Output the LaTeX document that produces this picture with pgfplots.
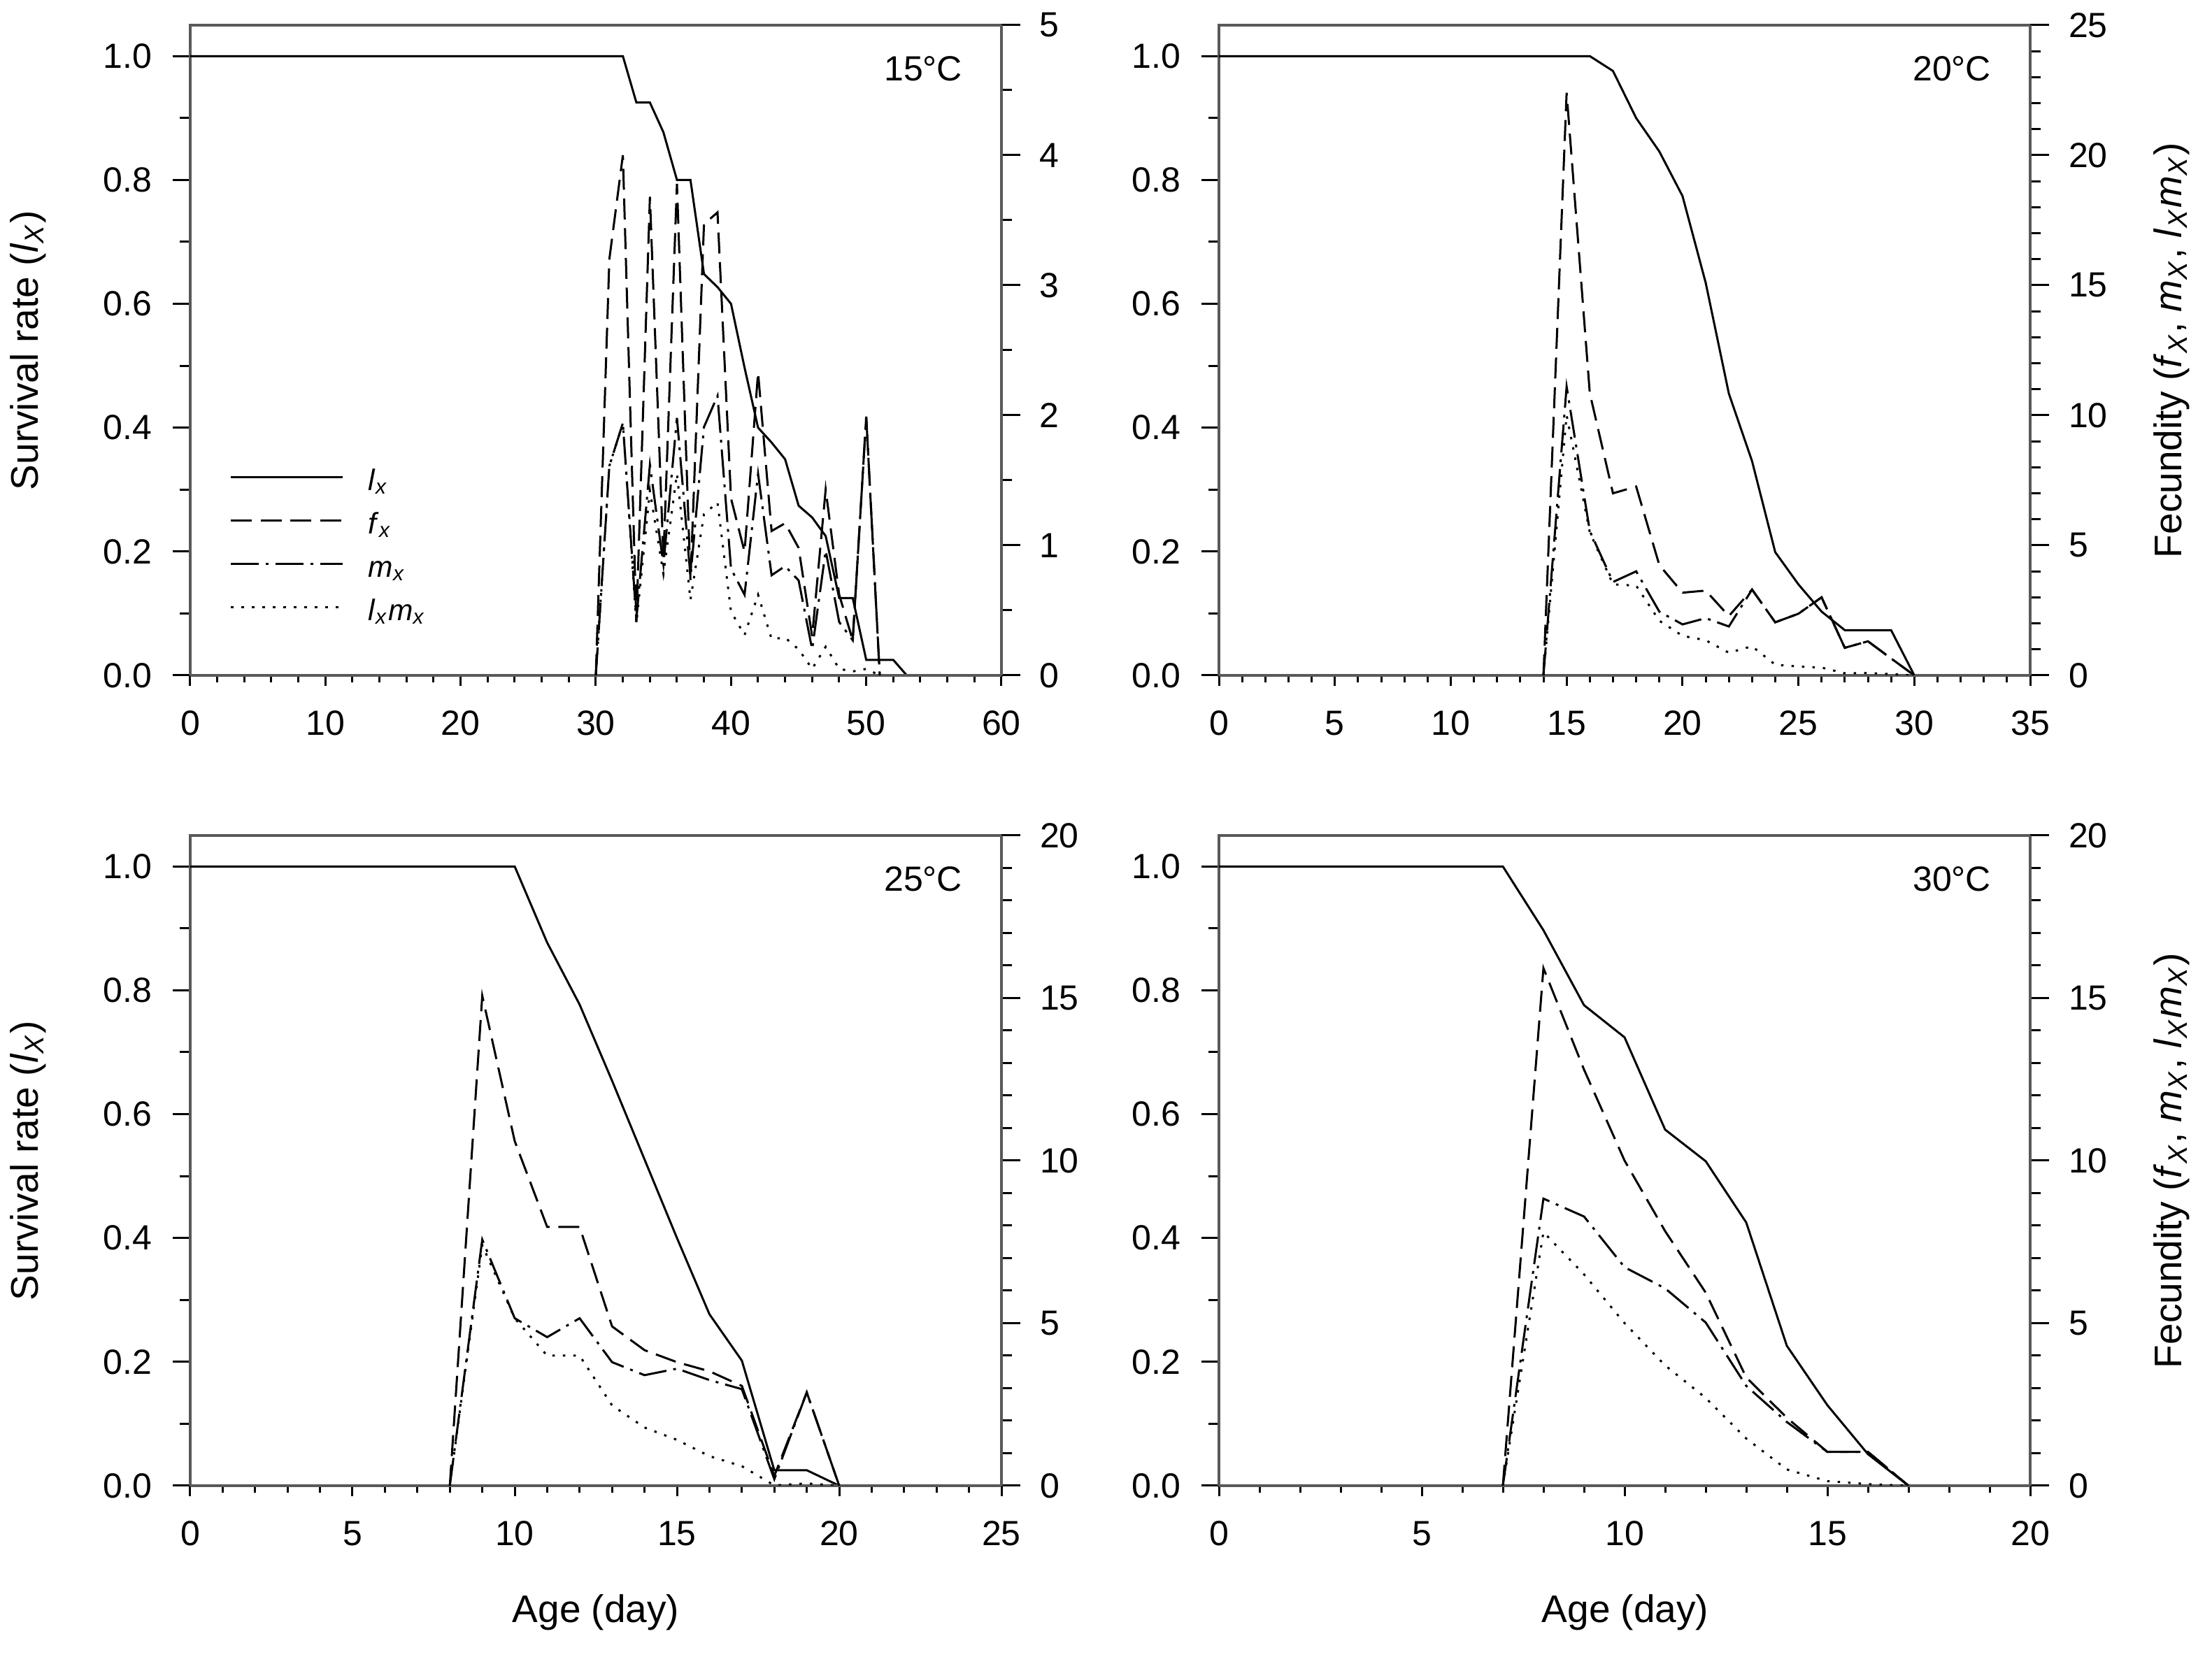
\documentclass[border=0pt]{standalone}
\usepackage{fontspec}
\setmainfont{Liberation Sans}
\usepackage{pgfplots}
\pgfplotsset{compat=1.18}
\tikzset{
  lxs/.style={black, line width=0.6pt, solid},
  fxs/.style={black, line width=0.6pt, dash pattern=on 6pt off 2.5pt},
  mxs/.style={black, line width=0.6pt, dash pattern=on 8pt off 2pt on 0.8pt off 2pt},
  lms/.style={black, line width=0.6pt, dash pattern=on 0.7pt off 2.3pt},
  templabel/.style={anchor=north east, inner sep=0pt, font=\fontsize{10}{12}\selectfont},
}
\pgfplotsset{
  common/.style={scale only axis, width=232pt, height=186pt, xmin=0, ymin=0,
    anchor=south west, tick align=outside,
    axis line style={black!65, line width=0.7pt},
    every tick/.style={black, line width=0.6pt},
    tick label style={font=\fontsize{10}{12}\selectfont, inner sep=0pt},
    /pgf/number format/assume math mode=true},
  lxax/.style={common, ymax=1.05, ytick={0,0.2,0.4,0.6,0.8,1.0}, minor y tick num=1,
    yticklabel style={/pgf/number format/.cd, fixed, fixed zerofill, precision=1},
    xtick=\empty, ytick pos=left, major tick length=5pt, minor tick length=3pt,
    yticklabel shift=5.8pt},
  xax/.style={common, axis y line=none, axis x line*=bottom, ymax=1.05, ytick=\empty,
    major tick length=3pt, minor tick length=2pt, minor x tick num=4,
    xticklabel shift=7pt},
  fax/.style={common, axis x line=none, axis y line*=right, xtick=\empty,
    major tick length=5.4pt, minor tick length=3pt, yticklabel shift=5.4pt},
}
\newcommand{\lx}{\textit{l}\textsubscript{\textit{x}}}
\newcommand{\fx}{\textit{f}\textsubscript{\textit{x}}}
\newcommand{\mx}{\textit{m}\textsubscript{\textit{x}}}
\newcommand{\lX}{\textit{l}\textsubscript{\textit{X}}}
\newcommand{\fX}{\textit{f}\textsubscript{\textit{X}}}
\newcommand{\mX}{\textit{m}\textsubscript{\textit{X}}}
\begin{document}
\begin{tikzpicture}
\path[use as bounding box] (0,0) rectangle (632.6pt,474pt);

% ================= 15 C =================
\begin{axis}[lxax, at={(54.4pt,280.8pt)}, xmax=60]
\addplot[lxs] coordinates {(0,1) (32,1) (33,0.925) (34,0.925) (35,0.877) (36,0.80) (37,0.80) (38,0.648) (39,0.627) (40,0.60) (41,0.497) (42,0.40) (43,0.376) (44,0.349) (45,0.274) (46,0.255) (47,0.225) (48,0.125) (49,0.125) (50,0.025) (51,0.025) (52,0.025) (53,0)};
\node[templabel] at (rel axis cs:1,1) [xshift=-11pt, yshift=-8.8pt] {15°C};
\end{axis}
\begin{axis}[xax, at={(54.4pt,280.8pt)}, xmax=60, xtick={0,10,...,60}]
\end{axis}
\begin{axis}[fax, at={(54.4pt,280.8pt)}, xmax=60, ymax=5, ytick={0,1,2,3,4,5}, minor y tick num=1,
  legend style={at={(0.048,0.318)}, anchor=north west, draw=none, fill=none, inner sep=0pt,
    font=\fontsize{8.5}{10}\selectfont, row sep=4.4pt, column sep=7pt,
    nodes={inner sep=0pt, text height=6pt, text depth=2pt}},
  legend cell align=left,
  legend image code/.code={\draw[#1] (0pt,1.8pt) -- (32pt,1.8pt);}]
\addlegendimage{lxs}
\addlegendentry{\lx}
\addplot[fxs] coordinates {(30,0) (31,3.2) (32,4.0) (33,0.41) (34,3.68) (35,0.9) (36,3.78) (37,0.73) (38,3.47) (39,3.56) (40,1.36) (41,0.95) (42,2.33) (43,1.11) (44,1.17) (45,0.98) (46,0.3) (47,1.43) (48,0.62) (49,0.27) (50,1.99) (51,0)};
\addlegendentry{\fx}
\addplot[mxs] coordinates {(30,0) (31,1.61) (32,1.94) (33,0.43) (34,1.62) (35,0.85) (36,1.98) (37,0.76) (38,1.91) (39,2.15) (40,0.82) (41,0.62) (42,1.55) (43,0.77) (44,0.84) (45,0.73) (46,0.2) (47,0.96) (48,0.41) (49,0.27) (50,1.99) (51,0)};
\addlegendentry{\mx}
\addplot[lms] coordinates {(30,0) (31,1.61) (32,1.94) (33,0.40) (34,1.42) (35,0.78) (36,1.55) (37,0.58) (38,1.24) (39,1.33) (40,0.49) (41,0.31) (42,0.62) (43,0.28) (44,0.29) (45,0.20) (46,0.05) (47,0.22) (48,0.05) (49,0.03) (50,0.05) (51,0)};
\addlegendentry{\lx\mx}
\end{axis}

% ================= 20 C =================
\begin{axis}[lxax, at={(348.6pt,280.8pt)}, xmax=35]
\addplot[lxs] coordinates {(0,1) (16,1) (17,0.976) (18,0.90) (19,0.846) (20,0.774) (21,0.634) (22,0.455) (23,0.346) (24,0.199) (25,0.147) (26,0.103) (27,0.073) (28,0.073) (29,0.073) (30,0)};
\node[templabel] at (rel axis cs:1,1) [xshift=-11pt, yshift=-8.8pt] {20°C};
\end{axis}
\begin{axis}[xax, at={(348.6pt,280.8pt)}, xmax=35, xtick={0,5,...,35}]
\end{axis}
\begin{axis}[fax, at={(348.6pt,280.8pt)}, xmax=35, ymax=25, ytick={0,5,...,25}, minor y tick num=4]
\addplot[fxs] coordinates {(14,0) (15,22.4) (16,10.85) (17,7.0) (18,7.26) (19,4.24) (20,3.18) (21,3.26) (22,2.28) (23,3.3) (24,2.04) (25,2.37) (26,3.0) (27,1.06) (28,1.31) (29,0.65) (30,0)};
\addplot[mxs] coordinates {(14,0) (15,11.1) (16,5.55) (17,3.59) (18,4.0) (19,2.45) (20,1.96) (21,2.2) (22,1.88) (23,3.3) (24,2.04) (25,2.37) (26,3.0) (27,1.06) (28,1.31) (29,0.65) (30,0)};
\addplot[lms] coordinates {(14,0) (15,10.0) (16,5.5) (17,3.5) (18,3.45) (19,2.1) (20,1.52) (21,1.35) (22,0.87) (23,1.12) (24,0.41) (25,0.34) (26,0.3) (27,0.08) (28,0.09) (29,0.05) (30,0)};
\end{axis}

% ================= 25 C =================
\begin{axis}[lxax, at={(54.4pt,49pt)}, xmax=25]
\addplot[lxs] coordinates {(0,1) (10,1) (11,0.877) (12,0.777) (13,0.654) (14,0.527) (15,0.40) (16,0.277) (17,0.202) (18,0.025) (19,0.025) (20,0)};
\node[templabel] at (rel axis cs:1,1) [xshift=-11pt, yshift=-8.8pt] {25°C};
\end{axis}
\begin{axis}[xax, at={(54.4pt,49pt)}, xmax=25, xtick={0,5,...,25}]
\end{axis}
\begin{axis}[fax, at={(54.4pt,49pt)}, xmax=25, ymax=20, ytick={0,5,...,20}, minor y tick num=4]
\addplot[fxs] coordinates {(8,0) (9,15.07) (10,10.6) (11,7.96) (12,7.96) (13,4.9) (14,4.17) (15,3.8) (16,3.52) (17,3.07) (18,0.3) (19,2.87) (20,0)};
\addplot[mxs] coordinates {(8,0) (9,7.57) (10,5.15) (11,4.57) (12,5.15) (13,3.8) (14,3.4) (15,3.6) (16,3.25) (17,2.97) (18,0.2) (19,2.87) (20,0)};
\addplot[lms] coordinates {(8,0) (9,7.4) (10,5.15) (11,4.0) (12,4.0) (13,2.47) (14,1.79) (15,1.41) (16,0.91) (17,0.6) (18,0.01) (19,0.07) (20,0)};
\end{axis}

% ================= 30 C =================
\begin{axis}[lxax, at={(348.6pt,49pt)}, xmax=20]
\addplot[lxs] coordinates {(0,1) (7,1) (8,0.897) (9,0.776) (10,0.724) (11,0.575) (12,0.524) (13,0.425) (14,0.226) (15,0.13) (16,0.051) (17,0)};
\node[templabel] at (rel axis cs:1,1) [xshift=-11pt, yshift=-8.8pt] {30°C};
\end{axis}
\begin{axis}[xax, at={(348.6pt,49pt)}, xmax=20, xtick={0,5,...,20}]
\end{axis}
\begin{axis}[fax, at={(348.6pt,49pt)}, xmax=20, ymax=20, ytick={0,5,...,20}, minor y tick num=4]
\addplot[fxs] coordinates {(7,0) (8,15.92) (9,12.8) (10,10.0) (11,7.83) (12,5.94) (13,3.33) (14,2.09) (15,1.04) (16,1.04) (17,0)};
\addplot[mxs] coordinates {(7,0) (8,8.83) (9,8.28) (10,6.72) (11,6.07) (12,5.02) (13,3.07) (14,1.96) (15,1.04) (16,1.04) (17,0)};
\addplot[lms] coordinates {(7,0) (8,7.8) (9,6.5) (10,5.0) (11,3.7) (12,2.7) (13,1.45) (14,0.5) (15,0.14) (16,0.05) (17,0)};
\end{axis}

% ================= labels =================
\begin{scope}[every node/.style={font=\fontsize{11}{13}\selectfont}]
\node[rotate=90] at (8pt,373.8pt) {Survival rate (\lX)};
\node[rotate=90] at (8pt,142pt) {Survival rate (\lX)};
\node[rotate=90] at (621pt,373.8pt) {Fecundity (\fX, \mX, \lX\mX)};
\node[rotate=90] at (621pt,142pt) {Fecundity (\fX, \mX, \lX\mX)};
\node at (170.4pt,12.8pt) {Age (day)};
\node at (464.8pt,12.8pt) {Age (day)};
\end{scope}
\end{tikzpicture}
\end{document}
